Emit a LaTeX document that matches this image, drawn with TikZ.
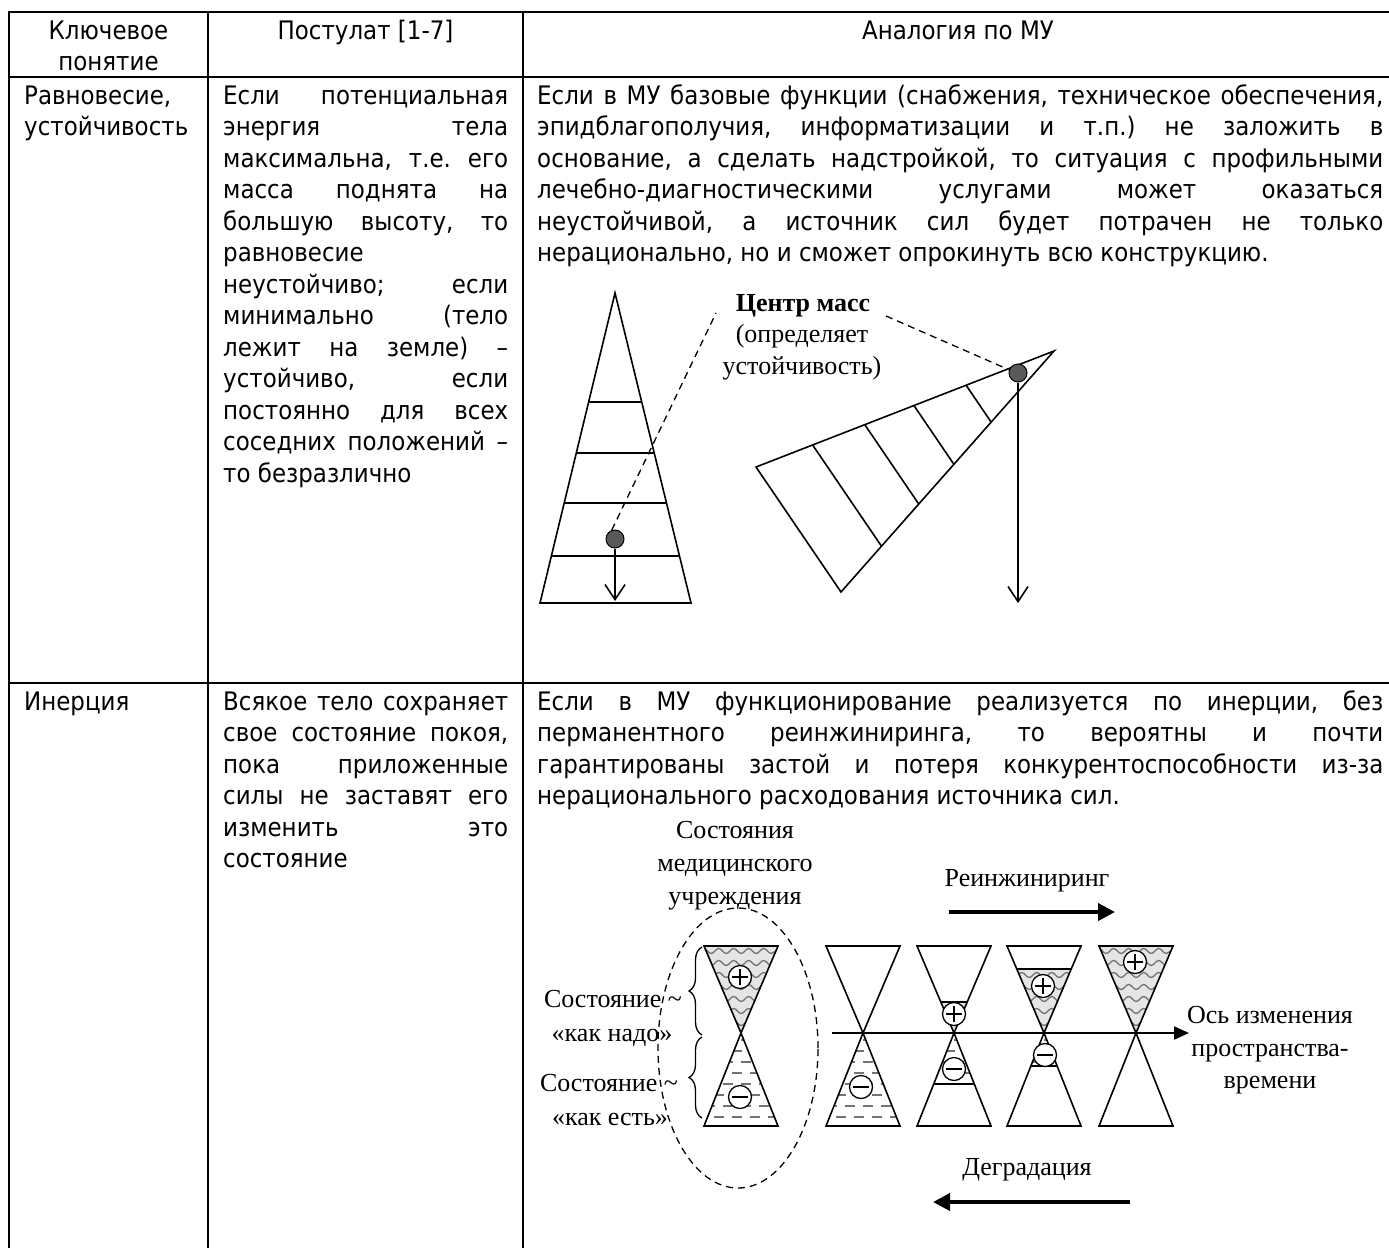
\documentclass[tikz,border=0pt]{standalone}
\usepackage{fontspec}
\setmainfont{Liberation Serif}
\newfontfamily\tah{DejaVu Sans}[FakeStretch=0.9]
\usetikzlibrary{arrows.meta,calc,shapes.geometric,decorations.pathmorphing,decorations.pathreplacing}
\frenchspacing
\newcommand{\jl}[1]{\makebox[\linewidth][s]{#1}}
\newcommand{\wavefill}[2]{\begin{scope}\clip (#1-37,946) -- (#1+37,946) -- (#1,1033) -- cycle; \clip (#1-40,#2) rectangle (#1+40,1034); \fill[black!10] (#1-40,#2) rectangle (#1+40,1034); \foreach \yy in {951,963,...,1030} \draw[wave] (#1-42,\yy) -- (#1+42,\yy); \end{scope}}
\newcommand{\dashfill}[2]{\begin{scope}\clip (#1,1033) -- (#1-37,1126) -- (#1+37,1126) -- cycle; \clip (#1-40,1032) rectangle (#1+40,#2); \foreach \yy [count=\i] in {1040,1051,...,1125} \draw[dashrow] ({#1-45+9*mod(\i,2)},\yy) -- (#1+45,\yy); \end{scope}}
\begin{document}
\begin{tikzpicture}[x=1pt,y=-1pt,
  tline/.style={line width=2pt},
  ttext/.style={inner sep=0pt,anchor=base west,font=\tah\fontsize{25.5}{31.5}\selectfont},
  thead/.style={ttext,anchor=base},
  fig/.style={line width=1.6pt,line join=miter},
  stext/.style={inner sep=0pt,anchor=base,font=\fontsize{26}{32}\selectfont},
  wave/.style={draw=black!55,line width=1.3pt,decorate,decoration={snake,amplitude=2.5pt,segment length=15pt}},
  dashrow/.style={draw=black!55,line width=2.2pt,dash pattern=on 10pt off 8pt},
  cmdot/.style={circle,draw=black,line width=1pt,fill=black!65,minimum size=18pt,inner sep=0pt},
  cmdash/.style={line width=1.3pt,dash pattern=on 7pt off 5pt},
  plusc/.style={circle,draw,fill=white,line width=1.3pt,minimum size=23pt,inner sep=0pt,
    path picture={\draw[line width=1.2pt] ($(path picture bounding box.center)+(-8,0)$) -- ($(path picture bounding box.center)+(8,0)$) ($(path picture bounding box.center)+(0,-8)$) -- ($(path picture bounding box.center)+(0,8)$);}},
  minusc/.style={circle,draw,fill=white,line width=1.3pt,minimum size=23pt,inner sep=0pt,
    path picture={\draw[line width=1.2pt] ($(path picture bounding box.center)+(-8,0)$) -- ($(path picture bounding box.center)+(8,0)$);}},
  openarrow/.style={fig,-{Straight Barb[length=15pt,width=20pt,line width=1.6pt]}},
  bigarrow/.style={line width=4pt,-{Triangle[length=17pt,width=17pt]}}
]
\useasboundingbox (0,0) rectangle (1389,1248);
\fill[white] (0,0) rectangle (1389,1248);

% ---------- table grid ----------
\draw[tline] (9,12) -- (1389,12);
\draw[tline] (9,77) -- (1389,77);
\draw[tline] (9,683) -- (1389,683);
\draw[tline] (9,11) -- (9,1248);
\draw[tline] (208,11) -- (208,1248);
\draw[tline] (523,11) -- (523,1248);

% ---------- header ----------
\node[thead] (h1a) at (108.5,39) {Ключевое};
\node[thead] (h1b) at (108.5,70.5) {понятие};
\node[thead] (h2) at (365.5,39) {Постулат [1-7]};
\node[thead] (h3) at (958,39) {Аналогия по МУ};

% ---------- row 1 text ----------
\node[ttext] (r1c1) at (24,104) {\parbox[t]{180pt}{Равновесие,\\устойчивость}};
\node[ttext] (r1c2) at (223,104) {\parbox[t]{285pt}{%
\jl{Если потенциальная}\\
\jl{энергия тела}\\
\jl{максимальна, т.е. его}\\
\jl{масса поднята на}\\
\jl{большую высоту, то}\\
равновесие\\
\jl{неустойчиво; если}\\
\jl{минимально (тело}\\
\jl{лежит на земле) –}\\
\jl{устойчиво, если}\\
\jl{постоянно для всех}\\
\jl{соседних положений –}\\
то безразлично}};
\node[ttext] (r1c3) at (537,104) {\parbox[t]{846pt}{%
\jl{Если в МУ базовые функции (снабжения, техническое обеспечения,}\\
\jl{эпидблагополучия, информатизации и т.п.) не заложить в}\\
\jl{основание, а сделать надстройкой, то ситуация с профильными}\\
\jl{лечебно-диагностическими услугами может оказаться}\\
\jl{неустойчивой, а источник сил будет потрачен не только}\\
нерационально, но и сможет опрокинуть всю конструкцию.}};

% ---------- row 2 text ----------
\node[ttext] (r2c1) at (24,710) {Инерция};
\node[ttext] (r2c2) at (223,710) {\parbox[t]{285pt}{%
\jl{Всякое тело сохраняет}\\
\jl{свое состояние покоя,}\\
\jl{пока приложенные}\\
\jl{силы не заставят его}\\
\jl{изменить это}\\
состояние}};
\node[ttext] (r2c3) at (537,710) {\parbox[t]{846pt}{%
\jl{Если в МУ функционирование реализуется по инерции, без}\\
\jl{перманентного реинжиниринга, то вероятны и почти}\\
\jl{гарантированы застой и потеря конкурентоспособности из-за}\\
нерационального расходования источника сил.}};

% ---------- row 1 figure: stable pyramid ----------
\coordinate (A) at (615,293);
\coordinate (BL) at (540,603);
\coordinate (BR) at (691,603);
\draw[fig] (A) -- (BL) -- (BR) -- cycle;
\foreach \f in {0.352,0.516,0.677,0.848} \draw[fig] ($(A)!\f!(BL)$) -- ($(A)!\f!(BR)$);

% ---------- row 1 figure: tilted pyramid ----------
\coordinate (T) at (1054,351);
\coordinate (P) at (756,467);
\coordinate (Q) at (841,592);
\draw[fig] (T) -- (P) -- (Q) -- cycle;
\foreach \t in {0.19,0.365,0.53,0.705} \draw[fig] ($(P)!\t!(T)$) -- ($(Q)!\t!(T)$);

% centre of mass label
\node[stext,font=\bfseries\fontsize{26}{32}\selectfont] (cm1) at (803,311) {Центр масс};
\node[stext] (cm2) at (802,342) {(определяет};
\node[stext] (cm3) at (802,374) {устойчивость)};
\coordinate (cmA) at (716,313);
\coordinate (cmB) at (886,316);

\node[cmdot] (dotL) at (615,539) {};
\node[cmdot] (dotR) at (1018,373) {};
\coordinate (arrL) at (615,601);
\coordinate (arrR) at (1018,603);
\draw[openarrow] (dotL.south) -- (arrL);
\draw[openarrow] (dotR.south) -- (arrR);
\draw[cmdash] (dotL.110) -- (cmA);
\draw[cmdash] (cmB) -- (dotR.160);

% ---------- row 2 figure ----------
\node[stext] (st1) at (735,838) {Состояния};
\node[stext] (st2) at (735,871) {медицинского};
\node[stext] (st3) at (735,904) {учреждения};

% fills
\wavefill{741}{946}
\dashfill{741}{1127}
\dashfill{863}{1127}
\wavefill{954}{1002}
\dashfill{954}{1084}
\wavefill{1044}{969}
\dashfill{1044}{1066}
\wavefill{1136}{946}

% hourglasses
\foreach \cx in {741,863,954,1044,1136} {
  \draw[fig] (\cx-37,946) -- (\cx+37,946) -- (\cx,1033) -- cycle;
  \draw[fig] (\cx,1033) -- (\cx-37,1126) -- (\cx+37,1126) -- cycle;
}
% level lines
\draw[fig] (954-13.2,1002) -- (954+13.2,1002);
\draw[fig] (954-20.3,1084) -- (954+20.3,1084);
\draw[fig] (1044-27.2,969) -- (1044+27.2,969);
\draw[fig] (1044-13.1,1066) -- (1044+13.1,1066);

% axis
\coordinate (ax0) at (832,1033);
\coordinate (ax1) at (1189,1033);
\draw[line width=2pt,-{Triangle[length=15pt,width=13pt]}] (ax0) -- (ax1);
\node[stext] (ax1t) at (1270,1023) {Ось изменения};
\node[stext] (ax2t) at (1270,1056) {пространства-};
\node[stext] (ax3t) at (1270,1088) {времени};

% signs
\node[plusc] (pa) at (740,977) {};
\node[minusc] (ma) at (740,1097) {};
\node[minusc] (mb) at (861,1087) {};
\node[plusc] (pc) at (954,1014) {};
\node[minusc] (mc) at (954,1069) {};
\node[plusc] (pd) at (1043,986) {};
\node[minusc] (md) at (1045,1055) {};
\node[plusc] (pe) at (1135,962) {};

% ellipse and braces
\node[draw,ellipse,cmdash,minimum width=160pt,minimum height=280pt,inner sep=0pt] (ell) at (738,1048) {};
\draw[line width=1.3pt,decorate,decoration={brace,amplitude=13pt}] (702,1035) -- (702,947);
\draw[line width=1.3pt,decorate,decoration={brace,amplitude=13pt}] (702,1118) -- (702,1037);
\node[stext] (la1) at (613,1007) {Состояние \textasciitilde};
\node[stext] (la2) at (612,1041) {«как надо»};
\node[stext] (lb1) at (609,1091) {Состояние \textasciitilde};
\node[stext] (lb2) at (610,1125) {«как есть»};

% reengineering / degradation
\node[stext] (re) at (1027,886) {Реинжиниринг};
\coordinate (re0) at (949,912);
\coordinate (re1) at (1115,912);
\draw[bigarrow] (re0) -- (re1);
\node[stext] (dg) at (1027,1175) {Деградация};
\coordinate (dg0) at (1130,1202);
\coordinate (dg1) at (933,1202);
\draw[bigarrow] (dg0) -- (dg1);
\end{tikzpicture}
\end{document}
